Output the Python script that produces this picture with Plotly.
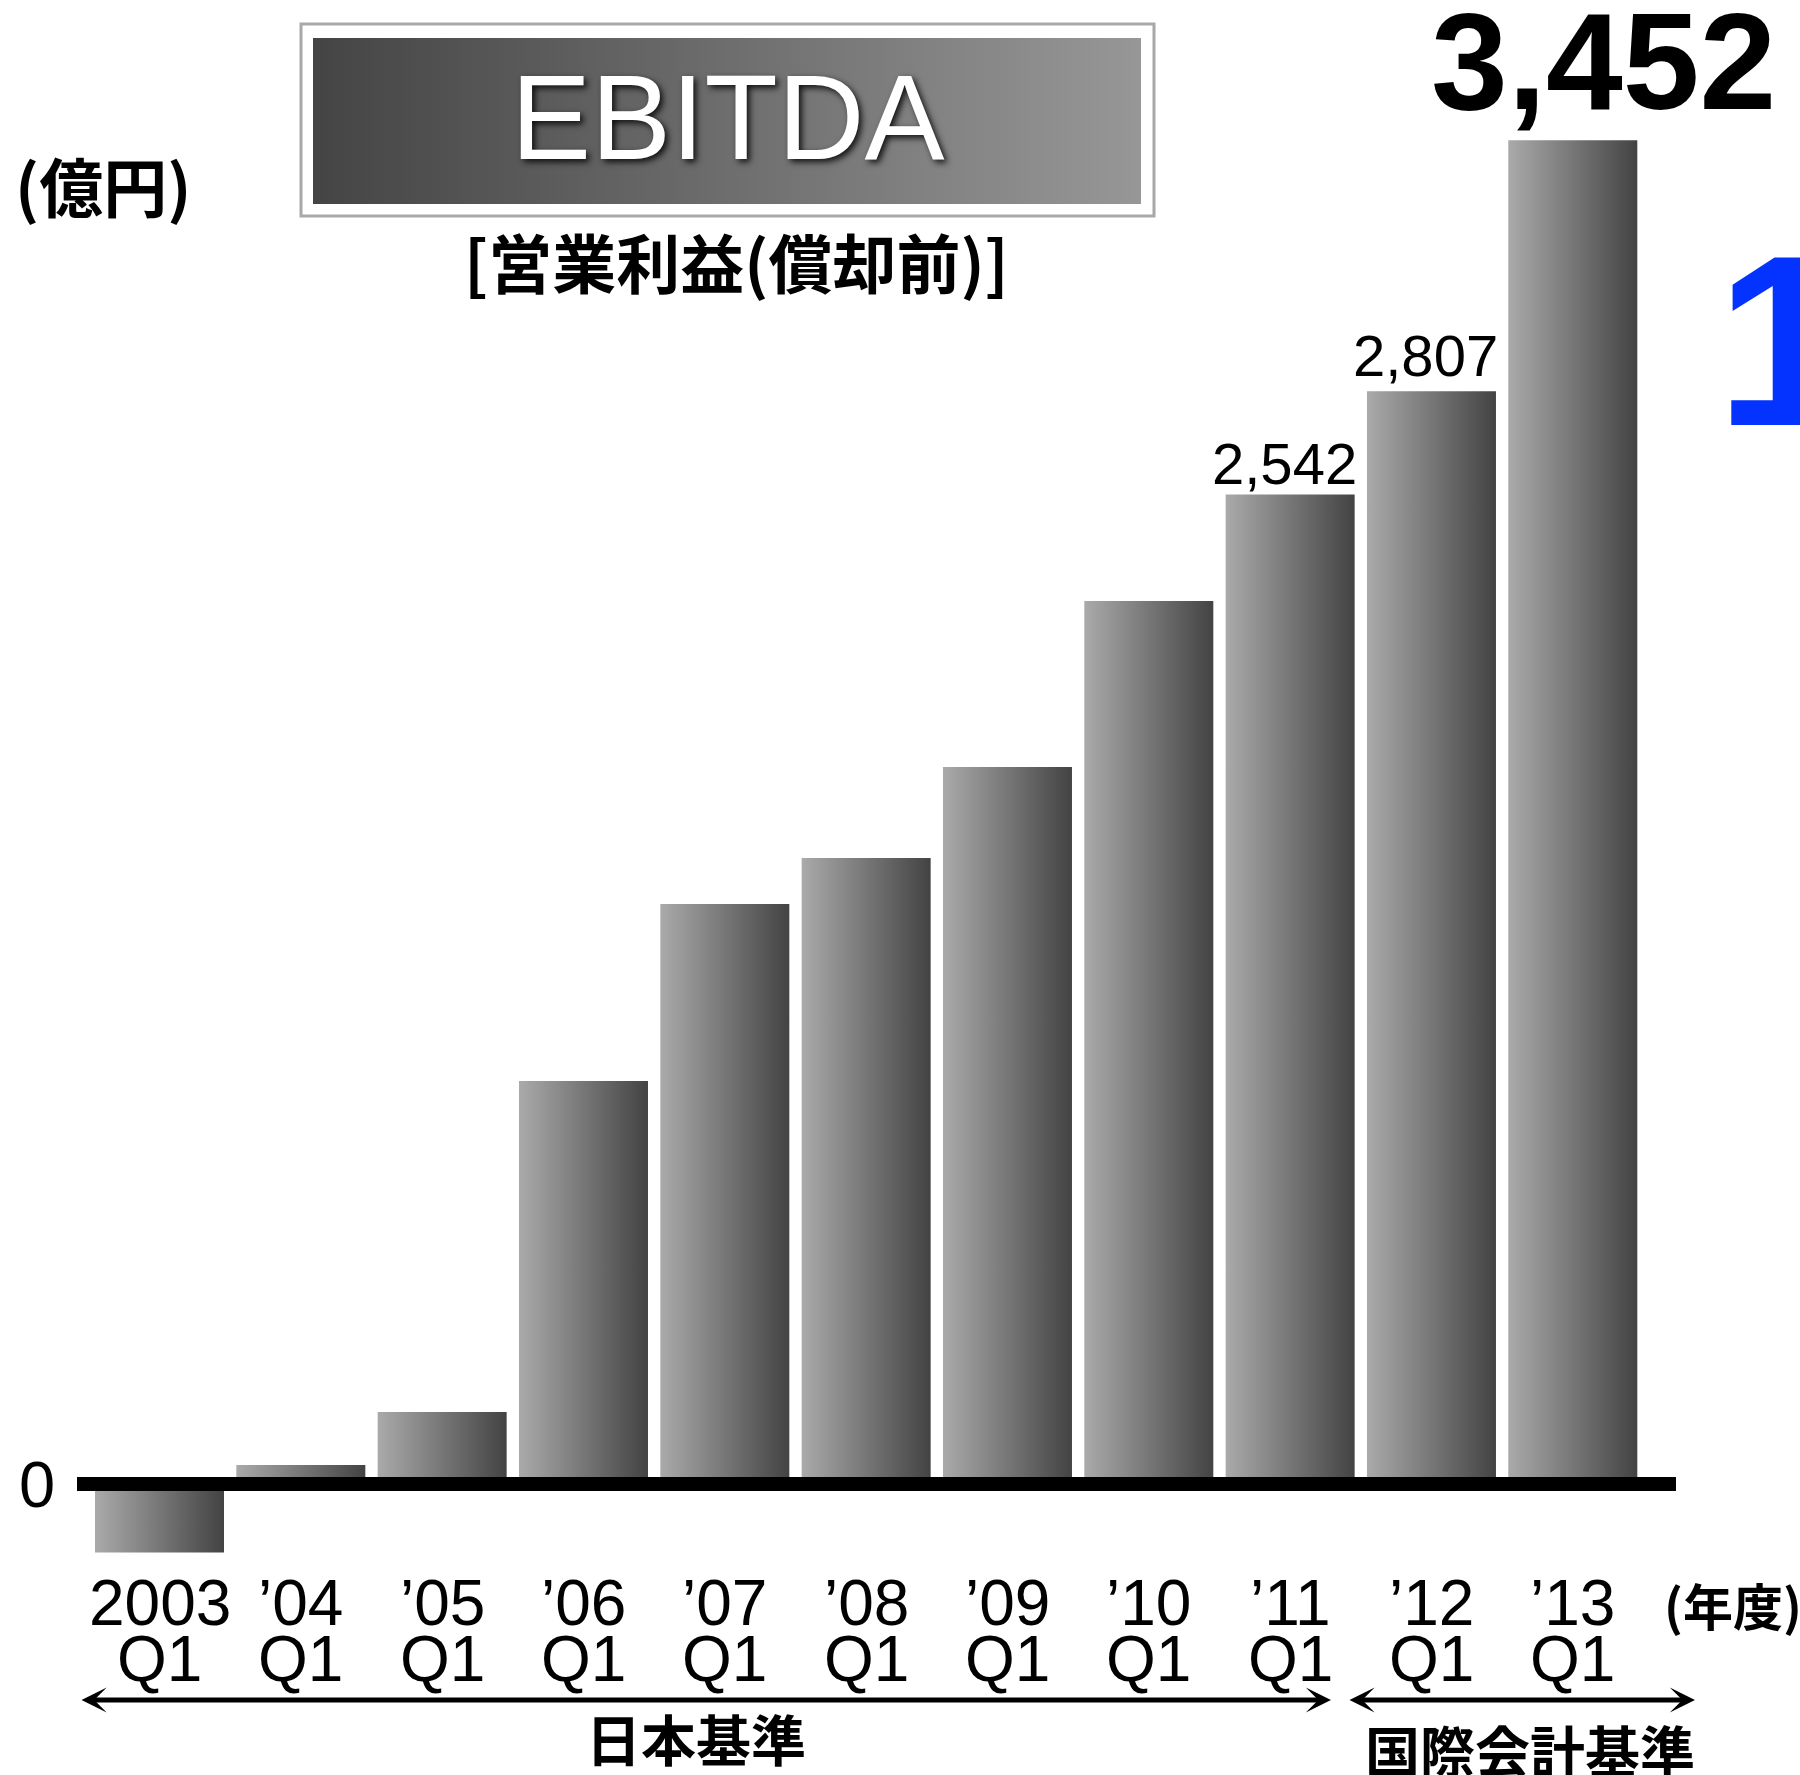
import plotly.graph_objects as go

# ---------------- data ----------------
categories = ["2003", "’04", "’05", "’06", "’07", "’08", "’09", "’10", "’11", "’12", "’13"]
quarters = ["Q1"] * 11
ebitda = [-176, 49, 185, 1035, 1490, 1608, 1842, 2268, 2542, 2807, 3452]
labeled_idx = [8, 9]          # small value labels
highlight_idx = 10            # big bold value label
unit_label = "(億円)"
year_label = "(年度)"
title_text = "EBITDA"
subtitle_text = "[営業利益(償却前)]"
std_jp = "日本基準"
std_ifrs = "国際会計基準"

# ---------------- geometry ----------------
W, H = 1800, 1775
ZERO_PX = 1484.0
PX_PER_UNIT = 0.3893
PITCH = 141.33
FIRST_CX = 159.5
BAR_HALF = 64.5 / PITCH

x0r = -FIRST_CX / PITCH
x1r = x0r + W / PITCH
y_lo = -(H - ZERO_PX) / PX_PER_UNIT
y_hi = ZERO_PX / PX_PER_UNIT

LATIN = "Liberation Sans, Arial, Helvetica, sans-serif"
CJK = "Noto Sans CJK JP, Noto Sans, sans-serif"

fig = go.Figure()

# bars as gradient-filled shapes derived from the data
for i, v in enumerate(ebitda):
    xl, xr = i - BAR_HALF, i + BAR_HALF
    fig.add_trace(go.Scatter(
        x=[xl, xl, xr, xr, xl], y=[0, v, v, 0, 0],
        mode="lines", fill="toself", line=dict(width=0, color="rgba(0,0,0,0)"),
        fillgradient=dict(type="horizontal",
                          colorscale=[[0, "#aaaaaa"], [1, "#434343"]]),
        hoverinfo="skip", showlegend=False, name=categories[i]))

# title box gradient (pixel space axes)
fig.add_trace(go.Scatter(
    x=[313, 1141, 1141, 313, 313], y=[38, 38, 204, 204, 38],
    xaxis="x2", yaxis="y2", mode="lines", fill="toself",
    line=dict(width=0, color="rgba(0,0,0,0)"),
    fillgradient=dict(type="horizontal",
                      colorscale=[[0, "#444444"], [1, "#979797"]]),
    hoverinfo="skip", showlegend=False))

shapes = [
    dict(type="rect", xref="x2", yref="y2", x0=301, x1=1154, y0=24, y1=216,
         line=dict(color="#a8a8a8", width=3), fillcolor="rgba(0,0,0,0)"),
    dict(type="line", xref="x2", yref="y", x0=77, x1=1676, y0=0, y1=0,
         line=dict(color="black", width=14), layer="above"),
]

ann = []


def txt(text, x, y, size, family=LATIN, weight=400, color="black",
        xref="x2", yref="y2", xanchor="center", yanchor="middle", shadow=None):
    f = dict(family=family, size=size, color=color, weight=weight)
    if shadow:
        f["shadow"] = shadow
    ann.append(dict(text=text, x=x, y=y, xref=xref, yref=yref,
                    xanchor=xanchor, yanchor=yanchor, showarrow=False, font=f))


txt(unit_label, 103, 184, 64, CJK, 700)
txt(title_text, 727, 117, 120, LATIN, 400, "white",
    shadow="3px 3px 6px rgba(0,0,0,0.85)")
txt(subtitle_text, 736, 260, 64, CJK, 700)

# value labels
label_pos = {8: (1284, 463), 9: (1425, 355)}
for i in labeled_idx:
    px, py = label_pos[i]
    txt(f"{ebitda[i]:,}", px, py, 58)
txt(f"{ebitda[highlight_idx]:,}", 1603, 61, 138, LATIN, 700)

# blue partial glyph at right edge
txt("1", 1714, 340, 243, LATIN, 700, "#0433ff", xanchor="left")

# zero tick
txt("0", 37, 1484, 65)

# category labels (two rows) placed on the data x scale
for i, (c, q) in enumerate(zip(categories, quarters)):
    txt(c, i, 1603, 64, xref="x")
    txt(q, i, 1659, 64, xref="x")
txt(year_label, 1733, 1604, 50, CJK, 700)

# standard arrows
for (a, b) in [(80, 1331), (1348, 1695)]:
    ann.append(dict(x=b, y=1700, ax=a, ay=1700, xref="x2", yref="y2",
                    axref="x2", ayref="y2", showarrow=True, text="",
                    arrowhead=3, startarrowhead=3, arrowside="end+start",
                    arrowwidth=5, arrowsize=0.84, startarrowsize=0.84,
                    arrowcolor="black", standoff=0, startstandoff=0))
txt(std_jp, 696, 1737, 55, CJK, 700)
txt(std_ifrs, 1530, 1748, 55, CJK, 700)

fig.update_layout(
    width=W, height=H, margin=dict(l=0, r=0, t=0, b=0, pad=0),
    paper_bgcolor="white", plot_bgcolor="white",
    xaxis=dict(range=[x0r, x1r], visible=False, showgrid=False, zeroline=False),
    yaxis=dict(range=[y_lo, y_hi], visible=False, showgrid=False, zeroline=False),
    xaxis2=dict(range=[0, W], overlaying="x", visible=False, showgrid=False, zeroline=False),
    yaxis2=dict(range=[H, 0], overlaying="y", visible=False, showgrid=False, zeroline=False),
    shapes=shapes, annotations=ann, showlegend=False,
)

fig.write_html("out.html", config={"displayModeBar": False},
               post_script="document.body.style.margin='0px';document.body.style.overflow='hidden';")
